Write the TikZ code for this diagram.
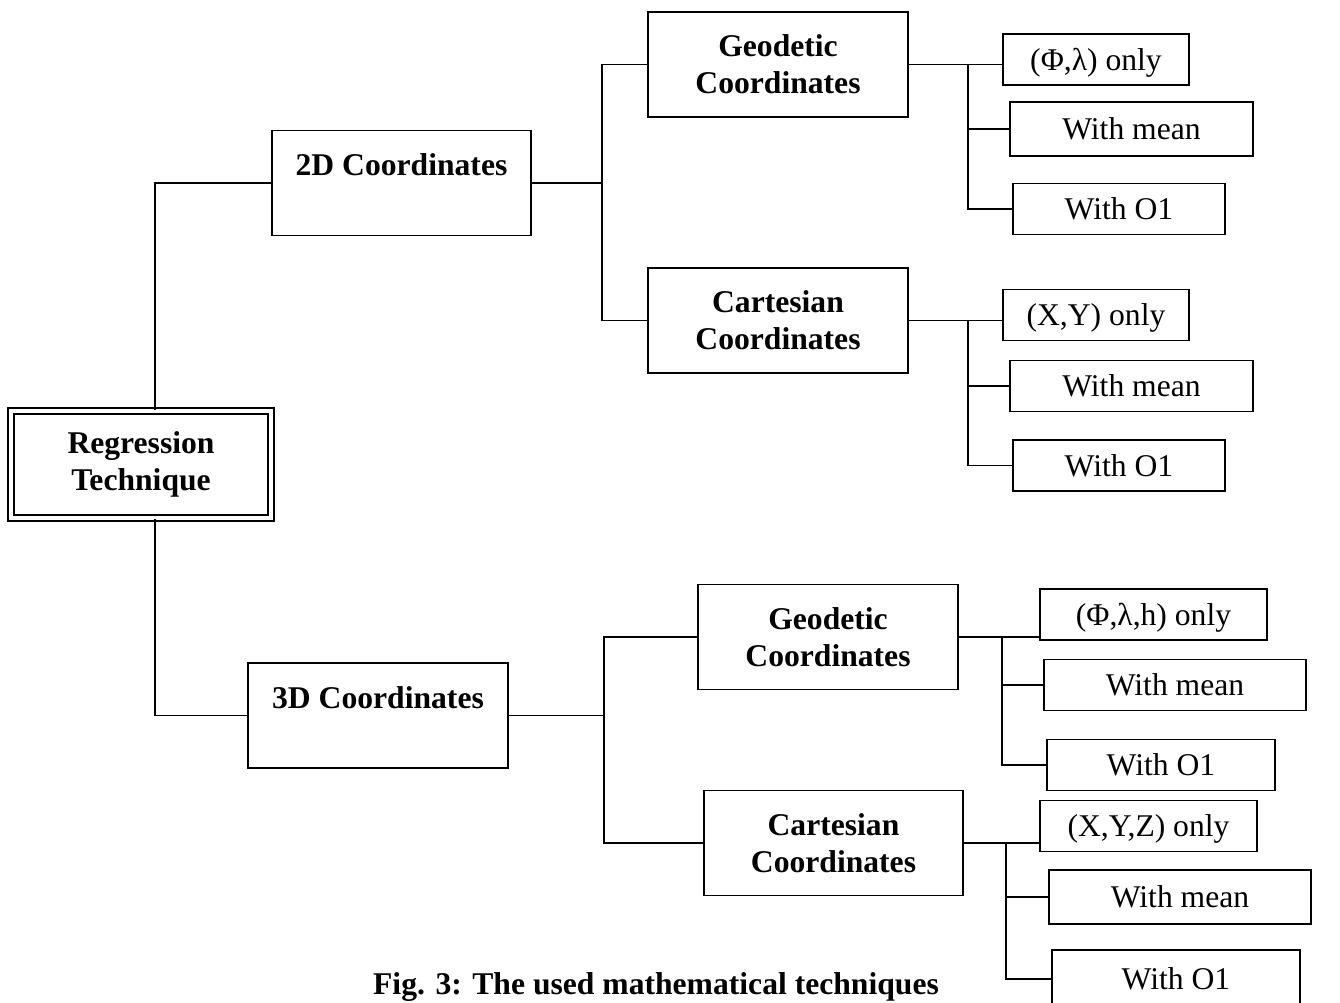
\documentclass[tikz,border=0pt]{standalone}
\usepackage{fontspec}
\setmainfont{Liberation Serif}
\usetikzlibrary{calc}
\tikzset{
  box/.style={draw, line width=1.1pt, inner sep=0pt, align=center, font=\fontsize{18}{21}\selectfont},
  rootbox/.style={box, double, double distance=2.3pt, line width=1.1pt, minimum width=5.2cm, minimum height=2.14cm, font=\bfseries\fontsize{18}{21}\selectfont},
  midbox/.style={box, minimum width=5.2cm, minimum height=2.1cm, font=\bfseries\fontsize{18}{21}\selectfont},
  leafbox/.style={box, minimum height=1.02cm, text depth=0pt},
  link/.style={line width=1.1pt}
}
\begin{document}
\begin{tikzpicture}[x=0.02cm, y=-0.02cm]
    \useasboundingbox (0,0) rectangle (1340,1003);
    % root and first split
    \node[rootbox] (reg) at (141,464.5) {Regression\\Technique};
    \node[midbox, minimum width=5.18cm] (d2) at (401.5,183) {2D Coordinates\\~};
    \node[midbox] (d3) at (378,715.5) {3D Coordinates\\~};
    % coordinate systems
    \node[midbox] (geo2) at (778,64.5) {Geodetic\\Coordinates};
    \node[midbox] (car2) at (778,320.5) {Cartesian\\Coordinates};
    \node[midbox] (geo3) at (828,637) {Geodetic\\Coordinates};
    \node[midbox, minimum width=5.18cm] (car3) at (833.5,843) {Cartesian\\Coordinates};
    % leaves, 2D
    \node[leafbox, minimum width=3.72cm] (g2a) at (1096,59.5) {(Φ,λ) only};
    \node[leafbox, minimum width=4.86cm, minimum height=1.08cm] (g2b) at (1131.5,129) {With mean};
    \node[leafbox, minimum width=4.24cm] (g2c) at (1119,209) {With O1};
    \node[leafbox, minimum width=3.72cm] (c2a) at (1096,315) {(X,Y) only};
    \node[leafbox, minimum width=4.86cm] (c2b) at (1131.5,386) {With mean};
    \node[leafbox, minimum width=4.24cm] (c2c) at (1119,465.5) {With O1};
    % leaves, 3D
    \node[leafbox, minimum width=4.54cm] (g3a) at (1153.5,614.5) {(Φ,λ,h) only};
    \node[leafbox, minimum width=5.24cm] (g3b) at (1175,685) {With mean};
    \node[leafbox, minimum width=4.56cm] (g3c) at (1161,765) {With O1};
    \node[leafbox, minimum width=4.34cm] (c3a) at (1148.5,826) {(X,Y,Z) only};
    \node[leafbox, minimum width=5.24cm, minimum height=1.08cm] (c3b) at (1180,897) {With mean};
    \node[leafbox, minimum width=4.96cm, minimum height=1.16cm] (c3c) at (1176,979) {With O1};
    \node[font=\bfseries\fontsize{18}{21}\selectfont, anchor=base] (cap) at (656,994) {Fig. 3: The used mathematical techniques};
    % spines
    \coordinate (t) at (155,0);
    \coordinate (j2) at (602,0);
    \coordinate (j3) at (604,0);
    \coordinate (s2) at (968,0);
    \coordinate (s3) at (1002,0);
    \coordinate (s4) at (1006,0);
    % connectors
    \draw[link] (reg.north -| t) |- (d2.west);
    \draw[link] (reg.south -| t) |- (d3.west);
    \draw[link] (d2.east) -- (d2.east -| j2);
    \draw[link] (geo2.west) -- (geo2.west -| j2) |- (car2.west);
    \draw[link] (d3.east) -- (d3.east -| j3);
    \draw[link] (geo3.west) -- (geo3.west -| j3) |- (car3.west);
    \draw[link] (geo2.east) -- (geo2.east -| g2a.west);
    \draw[link] (geo2.east -| s2) |- (g2c.west);
    \draw[link] (s2 |- g2b.west) -- (g2b.west);
    \draw[link] (car2.east) -- (car2.east -| c2a.west);
    \draw[link] (car2.east -| s2) |- (c2c.west);
    \draw[link] (s2 |- c2b.west) -- (c2b.west);
    \draw[link] (geo3.east) -- (geo3.east -| g3a.west);
    \draw[link] (geo3.east -| s3) |- (g3c.west);
    \draw[link] (s3 |- g3b.west) -- (g3b.west);
    \draw[link] (car3.east) -- (car3.east -| c3a.west);
    \draw[link] (car3.east -| s4) |- (c3c.west);
    \draw[link] (s4 |- c3b.west) -- (c3b.west);
\end{tikzpicture}
\end{document}
